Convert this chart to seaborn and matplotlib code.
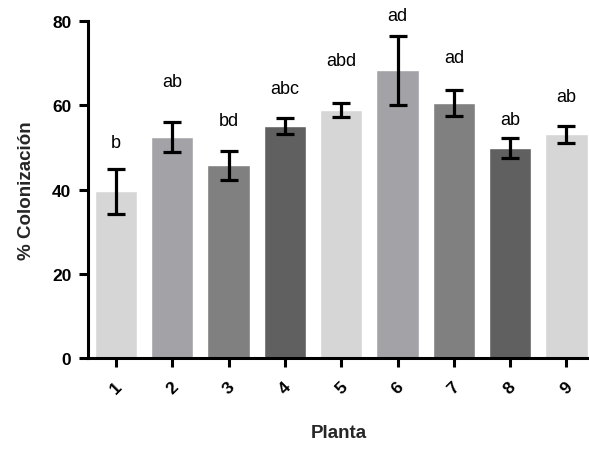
import matplotlib
matplotlib.use("Agg")
import matplotlib.pyplot as plt
import seaborn as sns
import pandas as pd

plantas = ["1", "2", "3", "4", "5", "6", "7", "8", "9"]
colonizacion = [39.6, 52.4, 45.7, 55.1, 58.8, 68.2, 60.5, 49.8, 53.1]
error = [5.3, 3.6, 3.5, 1.9, 1.7, 8.1, 3.0, 2.3, 2.0]
letras = ["b", "ab", "bd", "abc", "abd", "ad", "ad", "ab", "ab"]
letra_y = [51.1, 65.5, 56.3, 64.0, 70.5, 81.2, 71.3, 56.7, 62.1]
colores = ["#d6d6d6", "#a3a2a7", "#808080", "#606060",
           "#d6d6d6", "#a3a2a7", "#808080", "#606060", "#d6d6d6"]

df = pd.DataFrame({"Planta": plantas, "Colonizacion": colonizacion})

sns.set_theme(style="ticks")
plt.rcParams["font.family"] = ["Liberation Sans", "DejaVu Sans"]

fig = plt.figure(figsize=(5.89, 4.52), dpi=100)
ax = fig.add_axes([0.149, 0.205, 0.851, 0.747])

sns.barplot(data=df, x="Planta", y="Colonizacion", hue="Planta",
            palette=colores, legend=False, width=0.75, errorbar=None,
            saturation=1, ax=ax)
ax.errorbar(range(len(plantas)), colonizacion, yerr=error, fmt="none",
            ecolor="black", elinewidth=2.3, capsize=6.8, capthick=2.3,
            zorder=5, clip_on=False)

for i, (t, y) in enumerate(zip(letras, letra_y)):
    ax.text(i, y, t, ha="center", va="center", fontsize=13, color="black",
            clip_on=False)

ax.set_ylim(0, 80)
ax.set_xlim(-0.5, 8.4)
ax.set_yticks([0, 20, 40, 60, 80])
sns.despine(ax=ax)
for s in ["left", "bottom"]:
    ax.spines[s].set_linewidth(2.2)
    ax.spines[s].set_color("black")

ax.tick_params(axis="both", width=2.2, length=6.8, color="black",
               labelsize=12.5, labelcolor="black")
ax.tick_params(axis="y", pad=5)
ax.tick_params(axis="x", pad=8)
for lab in ax.get_xticklabels():
    lab.set_rotation(45)
    lab.set_fontweight("bold")
for lab in ax.get_yticklabels():
    lab.set_fontweight("bold")

ax.set_xlabel("Planta", fontsize=13.5, fontweight="bold", labelpad=20)
ax.set_ylabel("% Colonización", fontsize=13.5, fontweight="bold", labelpad=12)

fig.savefig("out.png", dpi=100)
